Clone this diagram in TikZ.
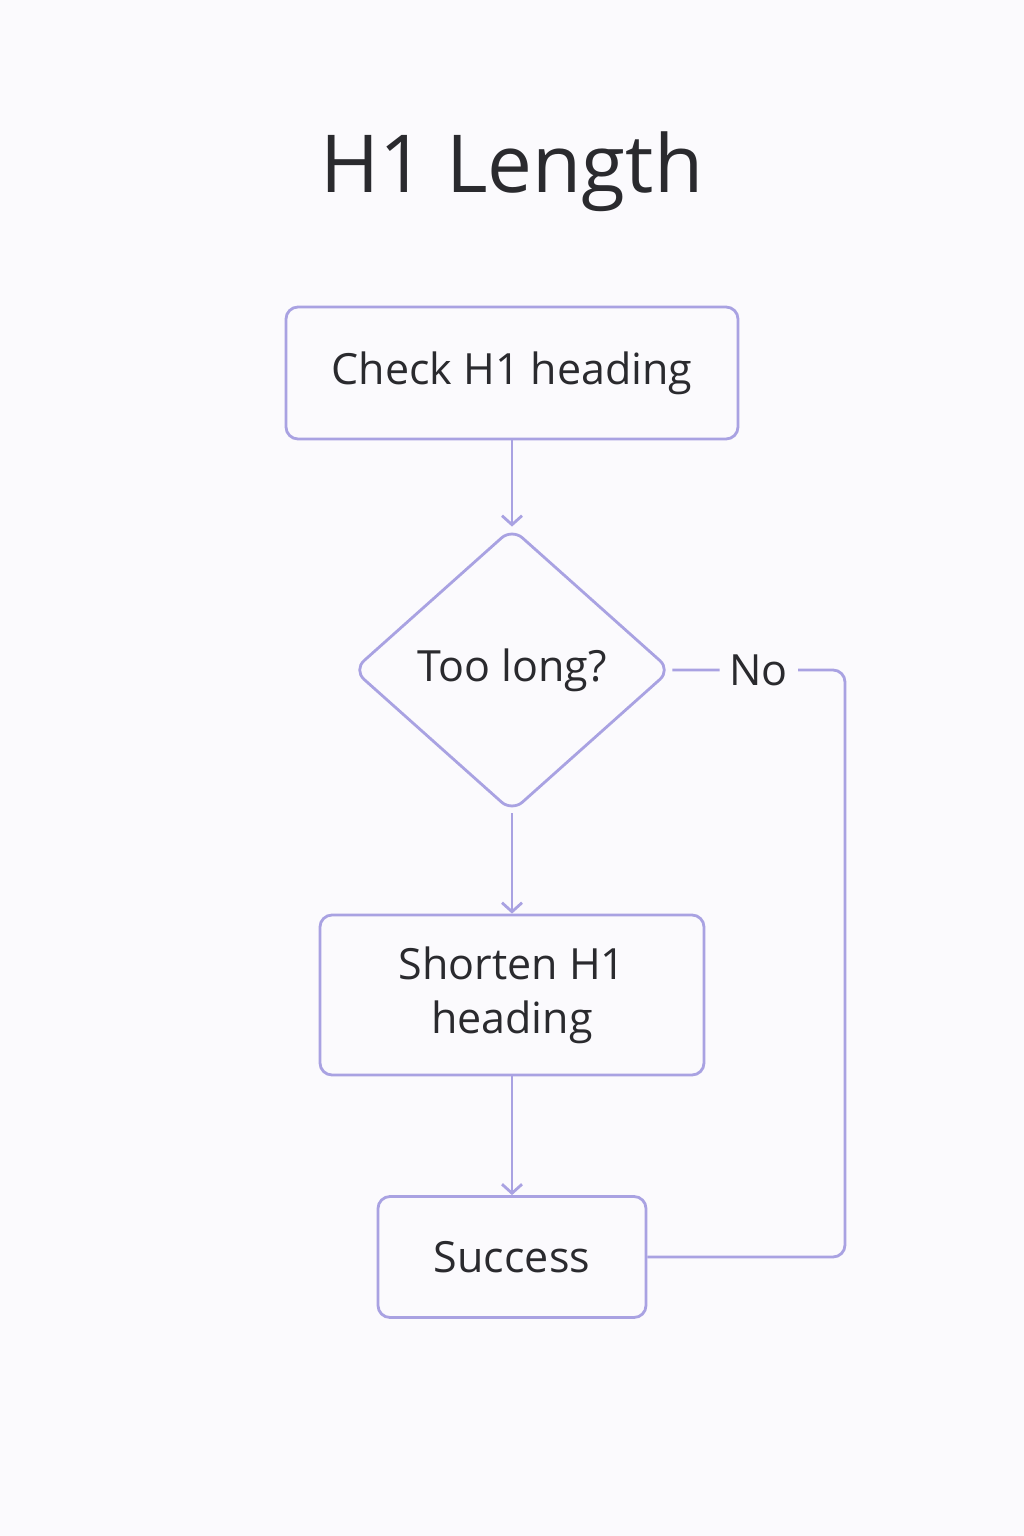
\documentclass[tikz,border=0pt]{standalone}
\usepackage{fontspec}
\setmainfont{Open Sans}
\usetikzlibrary{shapes.geometric,arrows.meta}
\definecolor{edge}{HTML}{A9A2E2}
\definecolor{txt}{HTML}{2A2A2E}
\definecolor{bg}{HTML}{FBFAFD}
\begin{document}
\begin{tikzpicture}[x=1pt,y=-1pt,
  box/.style={draw=edge,line width=2.8pt,rounded corners=12pt,fill=bg,text=txt,font=\fontsize{43}{54}\selectfont,align=center,inner sep=0pt},
  dia/.style={draw=edge,line width=2.8pt,diamond,rounded corners=14pt,fill=bg,text=txt,font=\fontsize{43}{54}\selectfont,inner sep=0pt,minimum width=318pt,minimum height=284pt},
  conn/.style={draw=edge,line width=2.8pt},
  arr/.style={conn,-{Straight Barb[length=9pt,width=20pt,line width=2.8pt]}}]
\fill[bg] (0,0) rectangle (1024,1536);
\useasboundingbox (0,0) rectangle (1024,1536);
\node[text=txt,font=\fontsize{80}{90}\selectfont\mdseries] (title) at (512,172) {H1 Length};
\node[box,minimum width=452pt,minimum height=132pt] (check) at (512,373) {Check H1 heading};
\node[dia] (q) at (512,670) {Too long?};
\node[box,minimum width=384pt,minimum height=160pt] (short) at (512,995) {Shorten H1\\heading};
\node[box,minimum width=268pt,minimum height=121pt] (succ) at (512,1257) {Success};
\coordinate (c1) at (845,1257);
\coordinate (c2) at (845,670);
\draw[arr] (check) -- (q);
\draw[arr] (q) -- (short);
\draw[arr] (short) -- (succ);
\draw[conn,rounded corners=12pt] (succ.east) -- (c1) -- (c2) -- (q.east)
  node[pos=0.5,fill=bg,text=txt,font=\fontsize{43}{54}\selectfont,inner xsep=10pt] (no) {No};
\end{tikzpicture}
\end{document}
